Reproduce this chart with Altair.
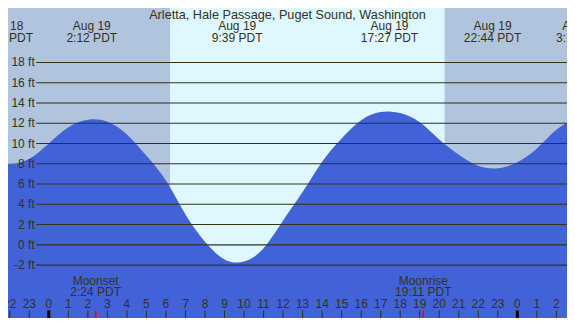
import altair as alt
import pandas as pd

# ---------------- data ----------------
title_text = ["Arletta, Hale Passage, Puget Sound, Washington"]

hours = list(range(-3, 28))
tide_ft = [8.25, 8.0, 8.5, 10.0, 11.6, 12.35, 12.15, 10.9, 8.8, 6.35, 3.0,
           0.3, -1.45, -1.65, -0.35, 2.4, 5.2, 8.2, 10.5, 12.3, 13.1, 13.0,
           12.1, 10.4, 8.9, 7.8, 7.55, 8.15, 9.5, 11.35, 12.5]

ext_hours = [-2.28, 2.2, 9.65, 17.45, 22.73, 27.28]
ext_dates = ["Aug 18", "Aug 19", "Aug 19", "Aug 19", "Aug 19", "Aug 20"]
ext_times = ["21:43 PDT", "2:12 PDT", "9:39 PDT", "17:27 PDT", "22:44 PDT", "3:17 PDT"]

band_start = [-3.0, 6.22, 20.27]
band_end = [6.22, 20.27, 28.0]
band_kind = ["night", "day", "night"]

moon_hours = [2.4, 19.183]
moon_events = ["Moonset", "Moonrise"]
moon_times = ["2:24 PDT", "19:11 PDT"]

grid_ft = [-2, 0, 2, 4, 6, 8, 10, 12, 14, 16, 18]
grid_labels = [f"{v} ft" for v in grid_ft]

tick_hours = list(range(-2, 27))
tick_labels = [str(h % 24) for h in tick_hours]
midnight_hours = [0, 24]

# ---------------- layout ----------------
W, H = 559, 310
SX, SY = W / 575, H / 326
X_DOMAIN = [-2.0916, 26.544]
Y_DOMAIN = [(249 - 326) / 10.65, 249 / 10.65]

NIGHT = "#B0C4DE"
DAY = "#DFF7FF"
WATER = "#4262D8"
INK = "#333319"
FONT = "Liberation Sans"

xs = alt.Scale(domain=X_DOMAIN, nice=False, zero=False)
ys = alt.Scale(domain=Y_DOMAIN, nice=False, zero=False)

tide_df = pd.DataFrame({"hour": hours, "ft": tide_ft})
ext_df = pd.DataFrame({"hour": ext_hours, "date": ext_dates, "time": ext_times})
band_df = pd.DataFrame({"start": band_start, "end": band_end, "kind": band_kind})
moon_df = pd.DataFrame({"hour": moon_hours, "event": moon_events, "time": moon_times})
grid_df = pd.DataFrame({"ft": grid_ft, "label": grid_labels})
tick_df = pd.DataFrame({"hour": tick_hours, "label": tick_labels})
tick_df["midnight"] = tick_df["hour"].isin(midnight_hours)
title_df = pd.DataFrame({"t": title_text})

bands = alt.Chart(band_df).mark_rect(clip=True).encode(
    x=alt.X("start:Q", scale=xs, axis=None),
    x2="end:Q",
    y=alt.value(0),
    y2=alt.value(H),
    color=alt.Color("kind:N", scale=alt.Scale(domain=["night", "day"], range=[NIGHT, DAY]), legend=None),
)

water = alt.Chart(tide_df).mark_area(color=WATER, interpolate="natural", clip=True).encode(
    x=alt.X("hour:Q", scale=xs, axis=None),
    y=alt.Y("ft:Q", scale=ys, axis=None),
    y2=alt.datum(Y_DOMAIN[0]),
)

grid = alt.Chart(grid_df).mark_rule(color=INK, strokeWidth=1.2).encode(
    y=alt.Y("ft:Q", scale=ys, axis=None),
    x=alt.value(29 * SX),
    x2=alt.value(W),
)

grid_text = alt.Chart(grid_df).mark_text(
    align="right", baseline="middle", font=FONT, fontSize=12, color=INK
).encode(
    y=alt.Y("ft:Q", scale=ys, axis=None),
    x=alt.value(27.5 * SX),
    text="label:N",
)

title = alt.Chart(title_df).mark_text(
    align="center", baseline="alphabetic", font=FONT, fontSize=12.7, color=INK
).encode(x=alt.value(287.5 * SX), y=alt.value(11.7 * SY), text="t:N")

ext_date = alt.Chart(ext_df).mark_text(
    align="center", baseline="alphabetic", font=FONT, fontSize=12, color=INK
).encode(x=alt.X("hour:Q", scale=xs, axis=None), y=alt.value(23.5 * SY), text="date:N")

ext_time = alt.Chart(ext_df).mark_text(
    align="center", baseline="alphabetic", font=FONT, fontSize=12, color=INK
).encode(x=alt.X("hour:Q", scale=xs, axis=None), y=alt.value(35.5 * SY), text="time:N")

moon_event = alt.Chart(moon_df).mark_text(
    align="center", baseline="alphabetic", font=FONT, fontSize=12, color=INK
).encode(x=alt.X("hour:Q", scale=xs, axis=None), y=alt.value(291 * SY), text="event:N")

moon_time = alt.Chart(moon_df).mark_text(
    align="center", baseline="alphabetic", font=FONT, fontSize=12, color=INK
).encode(x=alt.X("hour:Q", scale=xs, axis=None), y=alt.value(303.3 * SY), text="time:N")

hour_text = alt.Chart(tick_df).mark_text(
    align="center", baseline="alphabetic", font=FONT, fontSize=12, color=INK
).encode(x=alt.X("hour:Q", scale=xs, axis=None), y=alt.value(316 * SY), text="label:N")

ticks = alt.Chart(tick_df).transform_filter("!datum.midnight").mark_rule(
    color=INK, strokeWidth=1
).encode(x=alt.X("hour:Q", scale=xs, axis=None), y=alt.value(318 * SY), y2=alt.value(H))

mid_ticks = alt.Chart(tick_df).transform_filter("datum.midnight").mark_rule(
    color="#000000", strokeWidth=3
).encode(x=alt.X("hour:Q", scale=xs, axis=None), y=alt.value(318 * SY), y2=alt.value(H))

moon_ticks = alt.Chart(moon_df).mark_rule(color="#FF0000", strokeWidth=1.7).encode(
    x=alt.X("hour:Q", scale=xs, axis=None), y=alt.value(318 * SY), y2=alt.value(H)
)

chart = alt.layer(
    bands, water, grid, grid_text, title, ext_date, ext_time,
    moon_event, moon_time, hour_text, ticks, mid_ticks, moon_ticks,
).properties(
    width=W, height=H, padding=0,
    autosize=alt.AutoSizeParams(type="none"),
    background="#FFFFFF",
).configure_view(stroke=None)

chart.save("out.html", embed_options={"renderer": "svg", "actions": False})
